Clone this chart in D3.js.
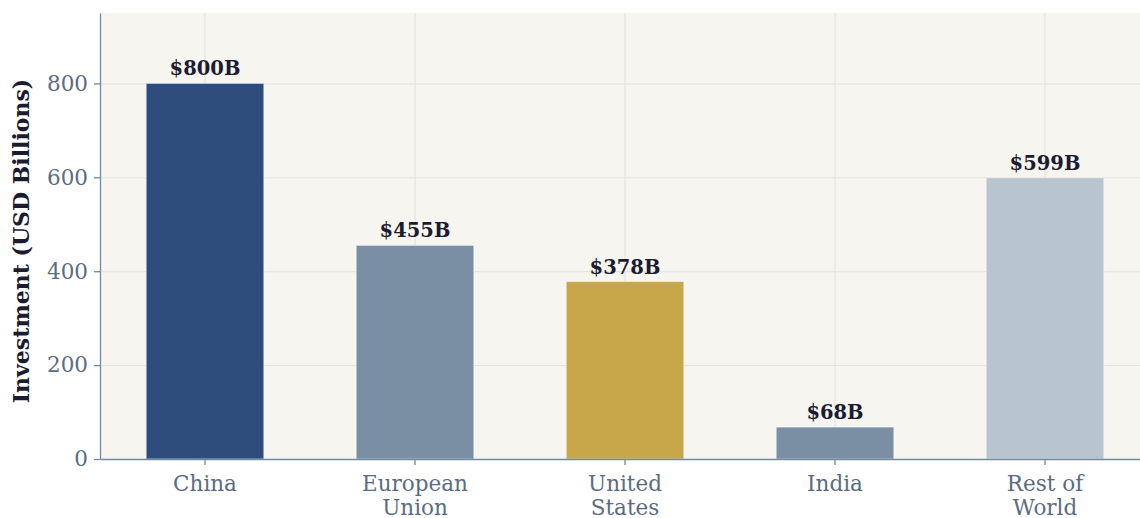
<!DOCTYPE html>
<html>
<head>
<meta charset="utf-8">
<script src="https://cdn.jsdelivr.net/npm/d3@7"></script>
<style>
  body { margin: 0; background: #ffffff; }
  svg { display: block; font-family: "DejaVu Serif", serif; }
</style>
</head>
<body>
<div id="chart"></div>
<script>
// data
const regions = ["China", "European Union", "United States", "India", "Rest of World"];
const regionLines = [["China"], ["European", "Union"], ["United", "States"], ["India"], ["Rest of", "World"]];
const investment = [800, 455, 378, 68, 599];
const barColors = ["#2f4d7c", "#7a8fa3", "#c8a74b", "#7a8fa3", "#b8c4cf"];
const yTicks = [0, 200, 400, 600, 800];

let width = 1140;
let height = 518;
let margin = { top: 13, bottom: 59, left: 100 };

let svg = d3
  .select("#chart")
  .append("svg")
  .attr("width", width)
  .attr("height", height);

// the plot area runs a little past the right edge of the picture
let innerW = 1050;
let innerH = height - margin.top - margin.bottom;

let g = svg.append("g").attr("transform", `translate(${margin.left},${margin.top})`);

// plot background
g.append("rect")
  .attr("width", innerW)
  .attr("height", innerH)
  .attr("fill", "#f6f5f0");

let xScale = d3.scaleBand().domain(regions).range([0, innerW]).paddingInner(0).paddingOuter(0);
let yScale = d3.scaleLinear().domain([0, 950]).range([innerH, 0]);
let barW = xScale.bandwidth() * 0.56;

// grid
g.selectAll(".hgrid")
  .data(yTicks)
  .enter()
  .append("line")
  .attr("x1", 0)
  .attr("x2", innerW)
  .attr("y1", (d) => yScale(d) + 0.5)
  .attr("y2", (d) => yScale(d) + 0.5)
  .attr("stroke", "#e2e0da")
  .attr("stroke-width", 1);

g.selectAll(".vgrid")
  .data(regions)
  .enter()
  .append("line")
  .attr("x1", (d) => xScale(d) + xScale.bandwidth() / 2)
  .attr("x2", (d) => xScale(d) + xScale.bandwidth() / 2)
  .attr("y1", 0)
  .attr("y2", innerH)
  .attr("stroke", "#e2e0da")
  .attr("stroke-width", 1);

// bars
g.selectAll(".bar")
  .data(investment)
  .enter()
  .append("rect")
  .attr("class", "bar")
  .attr("x", (d, i) => xScale(regions[i]) + (xScale.bandwidth() - barW) / 2)
  .attr("y", (d) => yScale(d))
  .attr("width", barW)
  .attr("height", (d) => innerH - yScale(d))
  .attr("fill", (d, i) => barColors[i])
  .attr("stroke", "rgba(255,255,255,0.5)")
  .attr("stroke-width", 1);

// value labels
g.selectAll(".val")
  .data(investment)
  .enter()
  .append("text")
  .attr("x", (d, i) => xScale(regions[i]) + xScale.bandwidth() / 2)
  .attr("y", (d) => yScale(d) - 8)
  .attr("text-anchor", "middle")
  .attr("font-size", 19.5)
  .attr("font-weight", "bold")
  .attr("fill", "#1c1c30")
  .text((d) => `$${d}B`);

// y axis
let yAxis = d3.axisLeft(yScale).tickValues(yTicks).tickSize(6).tickSizeOuter(0).tickPadding(6);
let yG = g.append("g").call(yAxis);
yG.select(".domain").attr("stroke", "#6f8aa3").attr("stroke-width", 1.3);
yG.selectAll(".tick line").attr("stroke", "#6f8aa3").attr("stroke-width", 1.3);
yG.selectAll(".tick text")
  .attr("font-size", 21.5)
  .attr("font-family", "DejaVu Serif, serif")
  .attr("fill", "#5b6c82");

// x axis
let xAxis = d3.axisBottom(xScale).tickSize(6).tickSizeOuter(0).tickPadding(5).tickFormat("");
let xG = g.append("g").attr("transform", `translate(0,${innerH})`).call(xAxis);
xG.select(".domain").attr("stroke", "#6f8aa3").attr("stroke-width", 1.3);
xG.selectAll(".tick line").attr("stroke", "#6f8aa3").attr("stroke-width", 1.3);

// category labels (multi-line)
let catLabels = g.selectAll(".cat")
  .data(regionLines)
  .enter()
  .append("text")
  .attr("text-anchor", "middle")
  .attr("font-size", 21.5)
  .attr("fill", "#5b6c82")
  .attr("transform", (d, i) => `translate(${xScale(regions[i]) + xScale.bandwidth() / 2},${innerH + 32})`);

catLabels.selectAll("tspan")
  .data((d) => d)
  .enter()
  .append("tspan")
  .attr("x", 0)
  .attr("dy", (d, i) => (i === 0 ? 0 : 24))
  .text((d) => d);

// y label
svg.append("text")
  .attr("transform", `translate(29,${margin.top + innerH / 2 + 5}) rotate(-90)`)
  .attr("text-anchor", "middle")
  .attr("font-size", 22)
  .attr("font-weight", "bold")
  .attr("fill", "#1c1c30")
  .text("Investment (USD Billions)");
</script>
</body>
</html>
